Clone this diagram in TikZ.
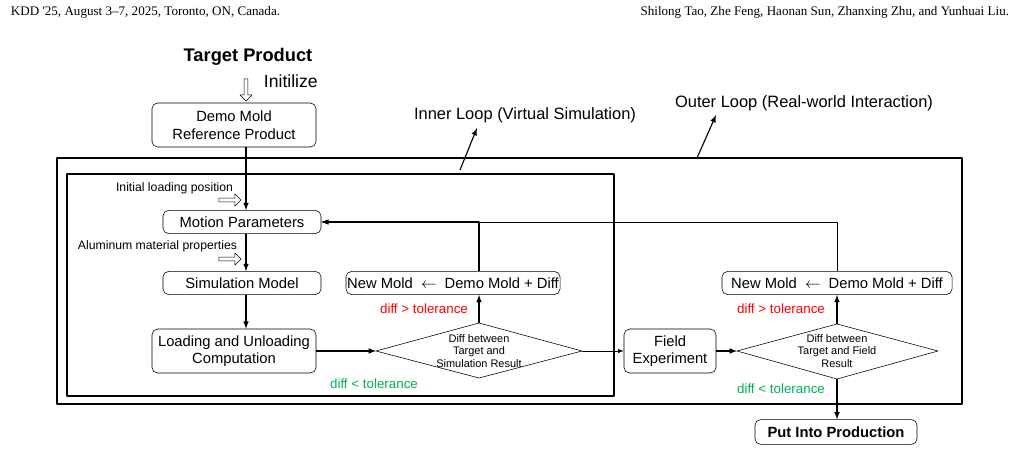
\documentclass[tikz,border=0pt]{standalone}
\usepackage{fontspec}
\setmainfont{Liberation Sans}
\newfontfamily\hdrfont{Liberation Serif}
\usetikzlibrary{shapes.arrows}
\definecolor{tolred}{RGB}{255,0,0}
\definecolor{tolgreen}{RGB}{0,176,80}
\tikzset{
  procbox/.style={draw, rounded corners=4pt, align=center, inner sep=0pt, font=\fontsize{10.5}{12.5}\selectfont},
  decidetext/.style={align=center, inner sep=0pt, font=\fontsize{7.8}{9}\selectfont},
  hollow/.style={draw, single arrow, single arrow head extend=1.5pt, minimum height=0.55cm, minimum width=0.3cm, inner sep=0.5pt},
  flow/.style={->, >=latex, line width=0.8pt},
  lbl/.style={font=\fontsize{8.7}{11}\selectfont},
  tol/.style={font=\fontsize{9.5}{11}\selectfont},
}
\begin{document}
\begin{tikzpicture}[x=0.025cm,y=-0.025cm,line join=round]
\useasboundingbox (0,0) rectangle (1020,452);
% header
\node[font=\hdrfont\fontsize{9.3}{11}\selectfont, anchor=west] (hl) at (6,12) {KDD '25, August 3–7, 2025, Toronto, ON, Canada.};
\node[font=\hdrfont\fontsize{9.3}{11}\selectfont, anchor=east] (hr) at (1014,12) {Shilong Tao, Zhe Feng, Haonan Sun, Zhanxing Zhu, and Yunhuai Liu.};

% loops
\draw [line width=1pt] (57,158) rectangle (962,404);
\draw [line width=1pt] (67,174) rectangle (614,396);
\node[font=\fontsize{11.7}{14}\selectfont] (innerlbl) at (525,115) {Inner Loop (Virtual Simulation)};
\node[font=\fontsize{11.7}{14}\selectfont] (outerlbl) at (804,103) {Outer Loop (Real-world Interaction)};
\coordinate (innerfoot) at (460,170);
\coordinate (outerfoot) at (697,158);
\draw [flow] (innerfoot) -- (477,128);
\draw [flow] (outerfoot) -- (716,115);

% top
\node[font=\bfseries\fontsize{13}{15}\selectfont] (target) at (248,57) {Target Product};
\node[hollow, rotate=-90] (init) at (246,89) {};
\node[font=\fontsize{12.5}{14}\selectfont, anchor=west] (initlbl) at (259,81) {Initilize};
\node[procbox, minimum width=4.1cm, minimum height=1.1cm] (demo) at (234,125) {Demo Mold\\Reference Product};
\coordinate (spine) at (246,0);

% inner loop
\node[procbox, minimum width=3.95cm, minimum height=0.58cm] (motion) at (242,222) {Motion Parameters};
\node[procbox, minimum width=3.95cm, minimum height=0.58cm] (simmodel) at (242,283) {Simulation Model};
\node[procbox, minimum width=4.1cm, minimum height=1.1cm] (loading) at (234,351) {Loading and Unloading\\Computation};
\coordinate (sdw) at (376,351); \coordinate (sdn) at (479,323);
\coordinate (sde) at (582,351); \coordinate (sds) at (479,378);
\draw (sdw) -- (sdn) -- (sde) -- (sds) -- cycle;
\node[decidetext] (simdiff) at (479,351) {Diff between\\Target and\\Simulation Result};
\node[procbox, minimum width=5.35cm, minimum height=0.58cm] (newmold) at (453,283) {New Mold \ $\leftarrow$ \ Demo Mold + Diff};
\node[lbl, anchor=east] (initpos) at (238,188) {Initial loading position};
\node[hollow] (initarrow) at (229,200) {};
\node[lbl, anchor=east] (alum) at (242,246) {Aluminum material properties};
\node[hollow] (alumarrow) at (229,259) {};
\node[tol, text=tolred] (simgt) at (424,309) {diff > tolerance};
\node[tol, text=tolgreen] (simlt) at (374,384) {diff < tolerance};

% outer loop
\node[procbox, minimum width=2.3cm, minimum height=1.1cm] (field) at (670,351) {Field\\Experiment};
\coordinate (fdw) at (737,351); \coordinate (fdn) at (837,324);
\coordinate (fde) at (938,351); \coordinate (fds) at (837,379);
\draw (fdw) -- (fdn) -- (fde) -- (fds) -- cycle;
\node[decidetext] (fielddiff) at (837,351) {Diff between\\Target and Field\\Result};
\node[procbox, minimum width=5.75cm, minimum height=0.58cm] (newmold2) at (837,283) {New Mold \ $\leftarrow$ \ Demo Mold + Diff};
\node[procbox, font=\bfseries\fontsize{10.5}{12.5}\selectfont, minimum width=4.05cm, minimum height=0.62cm] (production) at (836,432) {Put Into Production};
\node[tol, text=tolred] (fieldgt) at (781,309) {diff > tolerance};
\node[tol, text=tolgreen] (fieldlt) at (781,389) {diff < tolerance};

% connectors
\draw [flow] (demo.south -| spine) -- (motion.north -| spine);
\draw [flow] (motion.south -| spine) -- (simmodel.north -| spine);
\draw [flow] (simmodel.south -| spine) -- (loading.north -| spine);
\draw [flow] (loading.east) -- (sdw);
\draw [flow] (sdn) -- (newmold.south -| sdn);
\draw [flow] (newmold.north -| sdn) |- (motion.east);
\draw [->, >=latex] (sde) -- (field.west);
\draw [flow] (field.east) -- (fdw);
\draw [flow] (fdn) -- (newmold2.south);
\draw [flow] (fds) -- (production.north -| fds);
\draw [->, >=latex] (newmold2.north) |- (motion.east);
\end{tikzpicture}
\end{document}
